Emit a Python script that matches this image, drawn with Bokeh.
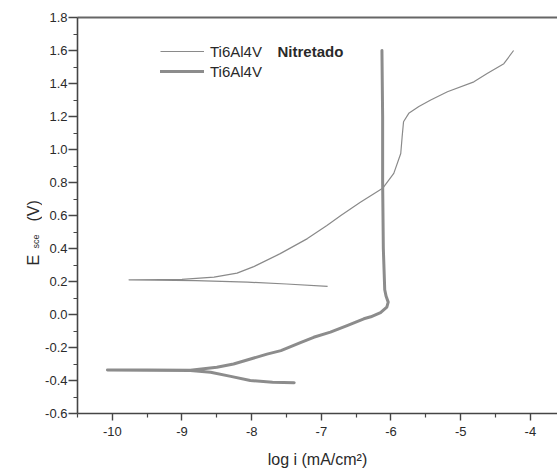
import math
from bokeh.plotting import figure
from bokeh.layouts import row
from bokeh.core.properties import value
from bokeh.models import Range1d, LinearAxis, FixedTicker, Label, Legend, LegendItem
from bokeh.embed import file_html
from bokeh.resources import INLINE

# Potentiodynamic polarization curves (log i vs E_sce)
# Nitrided Ti6Al4V: cathodic end -> corrosion point -> anodic end
nit_logi = [-6.91, -7.50, -8.06, -8.80, -9.40, -9.76, -9.30, -9.00, -8.54, -8.21,
            -7.97, -7.59, -7.20, -6.92, -6.72, -6.44, -6.12, -5.96, -5.86, -5.84,
            -5.82, -5.745, -5.60, -5.43, -5.19, -4.81, -4.62, -4.38, -4.24]
nit_E = [0.170, 0.185, 0.196, 0.205, 0.208, 0.210, 0.211, 0.213, 0.227, 0.251,
         0.290, 0.369, 0.460, 0.540, 0.600, 0.680, 0.765, 0.855, 0.976, 1.077,
         1.168, 1.219, 1.260, 1.300, 1.350, 1.410, 1.460, 1.520, 1.600]

# Untreated Ti6Al4V
ti_logi = [-7.39, -7.70, -8.02, -8.30, -8.59, -8.88, -9.50, -10.07, -9.50, -8.88,
           -8.50, -8.26, -7.78, -7.58, -7.30, -7.11, -6.87, -6.63, -6.39, -6.29,
           -6.15, -6.06, -6.04, -6.07, -6.09, -6.11, -6.12, -6.12, -6.13]
ti_E = [-0.413, -0.410, -0.400, -0.375, -0.350, -0.340, -0.338, -0.336, -0.337, -0.338,
        -0.320, -0.300, -0.240, -0.219, -0.170, -0.138, -0.107, -0.067, -0.026, -0.014,
        0.012, 0.045, 0.075, 0.110, 0.150, 0.400, 0.800, 1.200, 1.600]

x_ticks = [-10, -9, -8, -7, -6, -5, -4]
x_labels = ["-10", "-9", "-8", "-7", "-6", "-5", "-4"]
x_minor = [-10.5, -9.5, -8.5, -7.5, -6.5, -5.5, -4.5, -3.5]
y_ticks = [-0.6, -0.4, -0.2, 0.0, 0.2, 0.4, 0.6, 0.8, 1.0, 1.2, 1.4, 1.6, 1.8]
y_labels = ["-0.6", "-0.4", "-0.2", "0.0", "0.2", "0.4", "0.6", "0.8", "1.0",
            "1.2", "1.4", "1.6", "1.8"]
y_minor = [-0.5, -0.3, -0.1, 0.1, 0.3, 0.5, 0.7, 0.9, 1.1, 1.3, 1.5, 1.7]

FONT = "Liberation Sans"
AXIS_COLOR = "#454545"
TEXT_COLOR = "#2a2a2a"
H = 473
LEFT_W = 42
TOP_B = 17
BOTTOM_B = 60

p = figure(width=557 - LEFT_W, height=H, x_range=Range1d(-10.5, -3.61),
           y_range=Range1d(-0.6, 1.8), output_backend="svg",
           toolbar_location=None, min_border_left=77 - LEFT_W, min_border_right=0,
           min_border_top=TOP_B, min_border_bottom=BOTTOM_B)
p.outline_line_color = None
p.xgrid.visible = False
p.ygrid.visible = False

r_nit = p.line(nit_logi, nit_E, line_color="#8a8a8a", line_width=1.2,
               line_join="round")
r_ti = p.line(ti_logi, ti_E, line_color="#8c8c8c", line_width=3,
              line_join="round", line_cap="round")

for ax in (p.xaxis[0], p.yaxis[0]):
    ax.axis_line_color = AXIS_COLOR
    ax.axis_line_width = 1.6
    ax.major_tick_line_color = AXIS_COLOR
    ax.minor_tick_line_color = AXIS_COLOR
    ax.major_tick_line_width = 1.4
    ax.minor_tick_line_width = 1.2
    ax.major_tick_in = 0
    ax.minor_tick_in = 0
    ax.major_label_text_font = FONT
    ax.major_label_text_font_size = "13px"
    ax.major_label_text_color = TEXT_COLOR

p.xaxis[0].major_tick_out = 7
p.xaxis[0].minor_tick_out = 4
p.xaxis[0].ticker = FixedTicker(ticks=x_ticks, minor_ticks=x_minor)
p.xaxis[0].major_label_overrides = dict(zip(x_ticks, x_labels))
p.xaxis[0].major_label_standoff = 6
p.xaxis[0].axis_label = "log i (mA/cm\u00b2)"
p.xaxis[0].axis_label_text_font = FONT
p.xaxis[0].axis_label_text_font_size = "16px"
p.xaxis[0].axis_label_text_font_style = "normal"
p.xaxis[0].axis_label_text_color = TEXT_COLOR
p.xaxis[0].axis_label_standoff = 12

p.yaxis[0].major_tick_out = 9
p.yaxis[0].minor_tick_out = 4
p.yaxis[0].ticker = FixedTicker(ticks=y_ticks, minor_ticks=y_minor)
p.yaxis[0].major_label_overrides = dict(zip(y_ticks, y_labels))
p.yaxis[0].major_label_standoff = 1

# top border line
top = LinearAxis(ticker=FixedTicker(ticks=[], minor_ticks=[]),
                 axis_line_color="#666666", axis_line_width=2,
                 major_tick_out=0, minor_tick_out=0, major_tick_in=0,
                 minor_tick_in=0, major_label_text_font_size="0px")
p.add_layout(top, "above")

legend = Legend(items=[LegendItem(label="Ti6Al4V", renderers=[r_nit]),
                       LegendItem(label="Ti6Al4V", renderers=[r_ti])],
                location=(83, 332), border_line_color=None,
                background_fill_alpha=0, padding=0, margin=0, spacing=0,
                glyph_width=44, glyph_height=20, label_height=20,
                label_standoff=6, label_text_font=FONT,
                label_text_font_size="15px", label_text_color=TEXT_COLOR)
p.add_layout(legend)
p.add_layout(Label(x=200, y=362, x_units="screen", y_units="screen",
                   text="Nitretado", text_font=FONT, text_font_size="15px",
                   text_font_style="bold", text_baseline="middle",
                   text_color=TEXT_COLOR))

# narrow strip holding the rotated y-axis title: E_sce (V)
# its frame lines up with the main frame, so y is counted from the page bottom;
# each piece is anchored at its upper end (right-aligned before rotation)
lab = figure(width=LEFT_W, height=H, x_range=Range1d(0, LEFT_W),
             y_range=Range1d(BOTTOM_B, H - TOP_B), output_backend="svg",
             toolbar_location=None, min_border_left=0, min_border_right=0,
             min_border_top=TOP_B, min_border_bottom=BOTTOM_B,
             x_axis_location=None, y_axis_location=None)
lab.grid.visible = False
lab.outline_line_color = None
rot = math.pi / 2
lab.text(x=[33], y=[H - 254.3], text=["E"], angle=rot,
         text_font=value(FONT), text_font_size="16px", text_color=TEXT_COLOR,
         text_baseline="alphabetic", text_align="right")
lab.text(x=[35.5], y=[H - 234], text=["sce"], angle=rot,
         text_font=value(FONT), text_font_size="9px", text_color=TEXT_COLOR,
         text_baseline="alphabetic", text_align="right")
lab.text(x=[33], y=[H - 199.7], text=["(V)"], angle=rot,
         text_font=value(FONT), text_font_size="16px", text_color=TEXT_COLOR,
         text_baseline="alphabetic", text_align="right")

layout = row(lab, p)
open("out.html", "w").write(file_html(layout, INLINE))
